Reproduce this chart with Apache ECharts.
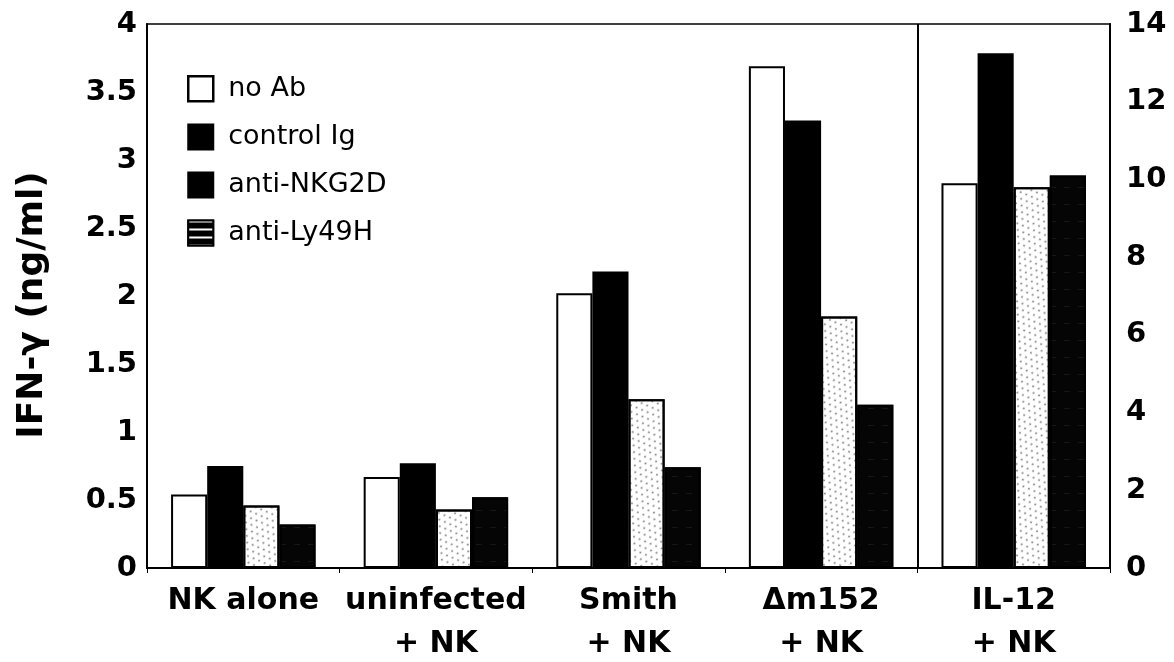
<!DOCTYPE html>
<html>
<head>
<meta charset="utf-8">
<script src="https://cdn.jsdelivr.net/npm/echarts@6/dist/echarts.min.js"></script>
<style>html,body{margin:0;padding:0;background:#fff;}#chart{width:1174px;height:662px;}</style>
</head>
<body>
<div id="chart"></div>
<script>
// Categories (x axis)
var categories = ['NK alone', 'uninfected\n+ NK', 'Smith\n+ NK', '\u0394m152\n+ NK', 'IL-12\n+ NK'];
var seriesNames = ['no Ab', 'control Ig', 'anti-NKG2D', 'anti-Ly49H'];
// Left axis values (ng/ml), first four groups
var noAb      = [0.54, 0.67, 2.02, 3.69];
var controlIg = [0.75, 0.77, 2.18, 3.29];
var antiNKG2D = [0.46, 0.43, 1.24, 1.85];
var antiLy49H = [0.32, 0.52, 0.74, 1.20];
// Right axis values (IL-12 + NK group), order: no Ab, control Ig, anti-NKG2D, anti-Ly49H
var il12Values = [9.9, 13.25, 9.8, 10.1];
// Tick settings
var leftTicks = {min: 0, max: 4, interval: 0.5};
var rightTicks = {min: 0, max: 14, interval: 2};
// Group separator (between 4th and 5th category), on a helper value axis spanning the 5 categories
var groupAxis = {min: 0, max: 5, interval: 4};

var FONT = 'DejaVu Sans';
var styles = [
  {color: '#ffffff', borderColor: '#000', borderWidth: 2},
  {color: '#000000', borderColor: '#000', borderWidth: 2},
  {color: '#ffffff', borderColor: '#000', borderWidth: 2,
   decal: {symbol: 'circle', symbolSize: 0.9, color: 'rgba(0,0,0,0.55)', dashArrayX: [[2, 4], [0, 3, 2, 1]], dashArrayY: [3, 3], rotation: 0.4}},
  {color: '#050505', borderColor: '#000', borderWidth: 2,
   decal: {symbol: 'rect', symbolSize: 1, color: 'rgba(255,255,255,0.07)', dashArrayX: [[6, 8]], dashArrayY: [1, 16], rotation: 0}}
];
var leftData = [noAb, controlIg, antiNKG2D, antiLy49H];

var series = [];
seriesNames.forEach(function (name, i) {
  series.push({
    name: name, type: 'bar', xAxisIndex: 0, yAxisIndex: 0,
    barGap: '0%', barCategoryGap: '25%',
    itemStyle: styles[i],
    data: leftData[i].concat(['-'])
  });
});
seriesNames.forEach(function (name, i) {
  series.push({
    name: name, type: 'bar', xAxisIndex: 1, yAxisIndex: 1,
    barGap: '0%', barCategoryGap: '25%',
    itemStyle: styles[i],
    data: ['-', '-', '-', '-', il12Values[i]]
  });
});

var chart = echarts.init(document.getElementById('chart'));
chart.setOption({
  animation: false,
  backgroundColor: '#fff',
  grid: {left: 147, right: 64, top: 24, bottom: 94, show: true, borderColor: '#000', borderWidth: 1.5,
         outerBoundsMode: 'none', containLabel: false},
  legend: {
    orient: 'vertical', left: 182, top: 70, itemWidth: 25, itemHeight: 25, itemGap: 21,
    textStyle: {fontFamily: FONT, fontSize: 27, color: '#000', padding: [0, 0, 0, 10]},
    data: [
      {name: 'no Ab', icon: 'rect', itemStyle: {color: '#fff', borderColor: '#000', borderWidth: 2.5, decal: 'none'}},
      {name: 'control Ig', icon: 'rect', itemStyle: {color: '#000', borderColor: '#000', borderWidth: 2, decal: 'none'}},
      {name: 'anti-NKG2D', icon: 'rect', itemStyle: {color: '#000', borderColor: '#000', borderWidth: 2, decal: 'none'}},
      {name: 'anti-Ly49H', icon: 'rect', itemStyle: {color: '#000', borderColor: '#000', borderWidth: 2,
        decal: {symbol: 'rect', symbolSize: 1, color: '#fff', dashArrayX: [1, 0], dashArrayY: [2, 6], rotation: 0}}}
    ]
  },
  xAxis: [
    {
      type: 'category', data: categories, position: 'bottom',
      axisLine: {show: true, lineStyle: {color: '#000', width: 2}},
      axisTick: {show: true, length: 5, lineStyle: {color: '#000'}},
      splitLine: {show: false},
      axisLabel: {fontFamily: FONT, fontWeight: 'bold', fontSize: 30, color: '#000', lineHeight: 43, margin: 12, interval: 0}
    },
    {
      type: 'category', data: categories, position: 'bottom', show: false
    },
    {
      type: 'value', position: 'top', min: groupAxis.min, max: groupAxis.max, interval: groupAxis.interval,
      axisLine: {show: false}, axisTick: {show: false}, axisLabel: {show: false},
      splitLine: {show: true, lineStyle: {color: '#000', width: 2}}
    }
  ],
  yAxis: [
    {
      type: 'value', position: 'left', min: leftTicks.min, max: leftTicks.max, interval: leftTicks.interval,
      name: 'IFN-\u03b3 (ng/ml)', nameLocation: 'middle', nameGap: 96,
      nameTextStyle: {fontFamily: FONT, fontWeight: 'bold', fontSize: 36, color: '#000', padding: [0, 18, 0, 0]},
      axisLine: {show: true, lineStyle: {color: '#000', width: 2}},
      axisTick: {show: false}, splitLine: {show: false},
      axisLabel: {fontFamily: FONT, fontWeight: 'bold', fontSize: 29, color: '#000', margin: 10}
    },
    {
      type: 'value', position: 'right', min: rightTicks.min, max: rightTicks.max, interval: rightTicks.interval,
      axisLine: {show: true, lineStyle: {color: '#000', width: 2}},
      axisTick: {show: false}, splitLine: {show: false},
      axisLabel: {fontFamily: FONT, fontWeight: 'bold', fontSize: 29, color: '#000', margin: 16}
    }
  ],
  series: series
});
</script>
</body>
</html>
